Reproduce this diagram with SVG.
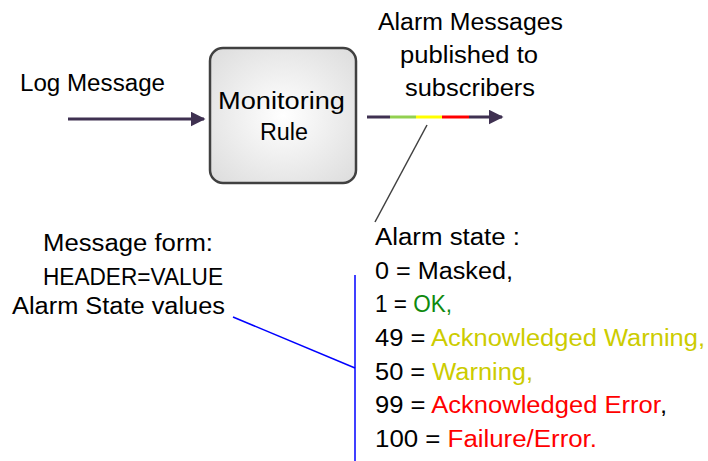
<svg xmlns="http://www.w3.org/2000/svg" width="708" height="461" viewBox="0 0 708 461">
<style>
text{font-family:"Liberation Sans",Arial,sans-serif;font-size:23px;fill:#000}
.ok{fill:#0f8a0f}.warn{fill:#cccc00}.err{fill:#ff0000}
.purple{stroke:#3f3151;stroke-width:3;fill:none}
</style>
<defs>
<radialGradient id="boxfill" cx="0.5" cy="0.5" r="0.7">
<stop offset="0" stop-color="#ffffff"/><stop offset="1" stop-color="#dcdcdc"/>
</radialGradient>
<marker id="ah" viewBox="0 0 10 10" refX="9" refY="5" markerWidth="5" markerHeight="5" orient="auto" markerUnits="strokeWidth">
<path d="M0,0 L10,5 L0,10 z" fill="#3f3151"/>
</marker>
</defs>
<g id="connectors">
<line class="purple" x1="68" y1="119" x2="204" y2="119" marker-end="url(#ah)"/>
<line x1="367" y1="117" x2="390" y2="117" stroke="#3f3151" stroke-width="3"/>
<line x1="390" y1="117" x2="416" y2="117" stroke="#92d050" stroke-width="3"/>
<line x1="416" y1="117" x2="442" y2="117" stroke="#ffff00" stroke-width="3"/>
<line x1="442" y1="117" x2="469" y2="117" stroke="#ff0000" stroke-width="3"/>
<line class="purple" x1="469" y1="117" x2="502" y2="117" marker-end="url(#ah)"/>
<line x1="427" y1="125" x2="375" y2="222" stroke="#404040" stroke-width="1.5"/>
<polyline points="233,317 355,368" fill="none" stroke="#0000ff" stroke-width="1.5"/>
<line x1="355" y1="275" x2="355" y2="461" stroke="#0000ff" stroke-width="1.5"/>
</g>
<g id="log-message">
<text x="20" y="91" textLength="145" lengthAdjust="spacingAndGlyphs">Log Message</text>
</g>
<g id="monitoring-rule">
<rect x="210" y="48" width="146" height="135" rx="13" fill="url(#boxfill)" stroke="#404040" stroke-width="2.5"/>
<text x="218" y="109" textLength="127" lengthAdjust="spacingAndGlyphs">Monitoring</text>
<text x="260" y="140" textLength="48" lengthAdjust="spacingAndGlyphs">Rule</text>
</g>
<g id="alarm-messages">
<text x="378" y="30" textLength="185" lengthAdjust="spacingAndGlyphs">Alarm Messages</text>
<text x="400" y="63" textLength="138" lengthAdjust="spacingAndGlyphs">published to</text>
<text x="405" y="96" textLength="130" lengthAdjust="spacingAndGlyphs">subscribers</text>
</g>
<g id="message-form">
<text x="43" y="251" textLength="170" lengthAdjust="spacingAndGlyphs">Message form:</text>
<text x="43" y="285" textLength="180" lengthAdjust="spacingAndGlyphs">HEADER=VALUE</text>
</g>
<g id="alarm-state-values">
<text x="12" y="314" textLength="213" lengthAdjust="spacingAndGlyphs">Alarm State values</text>
</g>
<g id="alarm-state">
<text x="375" y="245" textLength="145" lengthAdjust="spacingAndGlyphs">Alarm state :</text>
<text x="375" y="279" textLength="138" lengthAdjust="spacingAndGlyphs">0 = Masked,</text>
<text x="375" y="312" textLength="77" lengthAdjust="spacingAndGlyphs">1 = <tspan class="ok">OK,</tspan></text>
<text x="375" y="346" textLength="330" lengthAdjust="spacingAndGlyphs">49 = <tspan class="warn">Acknowledged Warning,</tspan></text>
<text x="375" y="380" textLength="158" lengthAdjust="spacingAndGlyphs">50 = <tspan class="warn">Warning,</tspan></text>
<text x="375" y="413" textLength="292" lengthAdjust="spacingAndGlyphs">99 = <tspan class="err">Acknowledged Error</tspan>,</text>
<text x="375" y="447" textLength="222" lengthAdjust="spacingAndGlyphs">100 = <tspan class="err">Failure/Error.</tspan></text>
</g>
</svg>
